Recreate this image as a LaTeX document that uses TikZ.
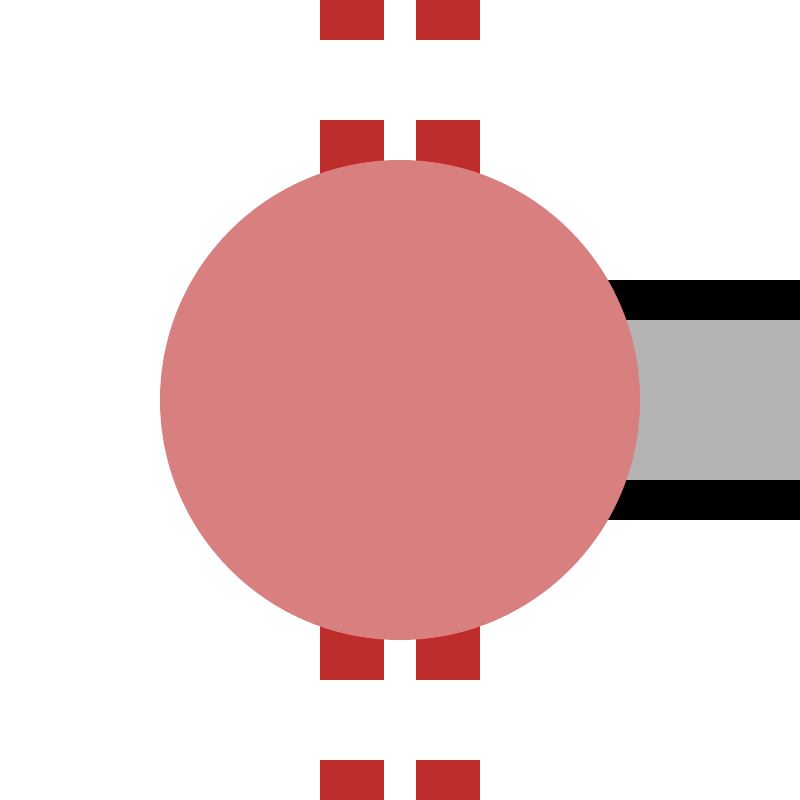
\documentclass[tikz,border=0pt]{standalone}
\usepackage{tikz}

\tikzset{every picture/.style={line width=0.75pt}}

\begin{document}
\begin{tikzpicture}[x=0.75pt,y=0.75pt,yscale=-1,xscale=1]
        \path[use as bounding box] (0,0) rectangle (800,800); %set diagram to 800 by 800

        %Shape: Rectangle [id:dp_wire_outer] 
        \draw  [draw opacity=0][fill={rgb, 255:red, 0; green, 0; blue, 0 }  ] (560,280) -- (800,280) -- (800,520) -- (560,520) -- cycle ;
        %Shape: Rectangle [id:dp_wire_inner] 
        \draw  [draw opacity=0][fill={rgb, 255:red, 179; green, 179; blue, 179 }  ] (560,320) -- (800,320) -- (800,480) -- (560,480) -- cycle ;

        %Shape: Rectangle [id:dp_rail_left_a] 
        \draw  [draw opacity=0][fill={rgb, 255:red, 191; green, 45; blue, 45 }  ] (320,0) -- (384,0) -- (384,40) -- (320,40) -- cycle ;
        %Shape: Rectangle [id:dp_rail_right_a] 
        \draw  [draw opacity=0][fill={rgb, 255:red, 191; green, 45; blue, 45 }  ] (416,0) -- (480,0) -- (480,40) -- (416,40) -- cycle ;
        %Shape: Rectangle [id:dp_rail_left_b] 
        \draw  [draw opacity=0][fill={rgb, 255:red, 191; green, 45; blue, 45 }  ] (320,120) -- (384,120) -- (384,200) -- (320,200) -- cycle ;
        %Shape: Rectangle [id:dp_rail_right_b] 
        \draw  [draw opacity=0][fill={rgb, 255:red, 191; green, 45; blue, 45 }  ] (416,120) -- (480,120) -- (480,200) -- (416,200) -- cycle ;
        %Shape: Rectangle [id:dp_rail_left_c] 
        \draw  [draw opacity=0][fill={rgb, 255:red, 191; green, 45; blue, 45 }  ] (320,600) -- (384,600) -- (384,680) -- (320,680) -- cycle ;
        %Shape: Rectangle [id:dp_rail_right_c] 
        \draw  [draw opacity=0][fill={rgb, 255:red, 191; green, 45; blue, 45 }  ] (416,600) -- (480,600) -- (480,680) -- (416,680) -- cycle ;
        %Shape: Rectangle [id:dp_rail_left_d] 
        \draw  [draw opacity=0][fill={rgb, 255:red, 191; green, 45; blue, 45 }  ] (320,760) -- (384,760) -- (384,800) -- (320,800) -- cycle ;
        %Shape: Rectangle [id:dp_rail_right_d] 
        \draw  [draw opacity=0][fill={rgb, 255:red, 191; green, 45; blue, 45 }  ] (416,760) -- (480,760) -- (480,800) -- (416,800) -- cycle ;

        %Shape: Circle [id:dp_junction] 
        \draw  [draw opacity=0][fill={rgb, 255:red, 216; green, 127; blue, 127 }  ] (160,400) .. controls (160,267.45) and (267.45,160) .. (400,160) .. controls (532.55,160) and (640,267.45) .. (640,400) .. controls (640,532.55) and (532.55,640) .. (400,640) .. controls (267.45,640) and (160,532.55) .. (160,400) -- cycle ;

    \end{tikzpicture}
\end{document}
